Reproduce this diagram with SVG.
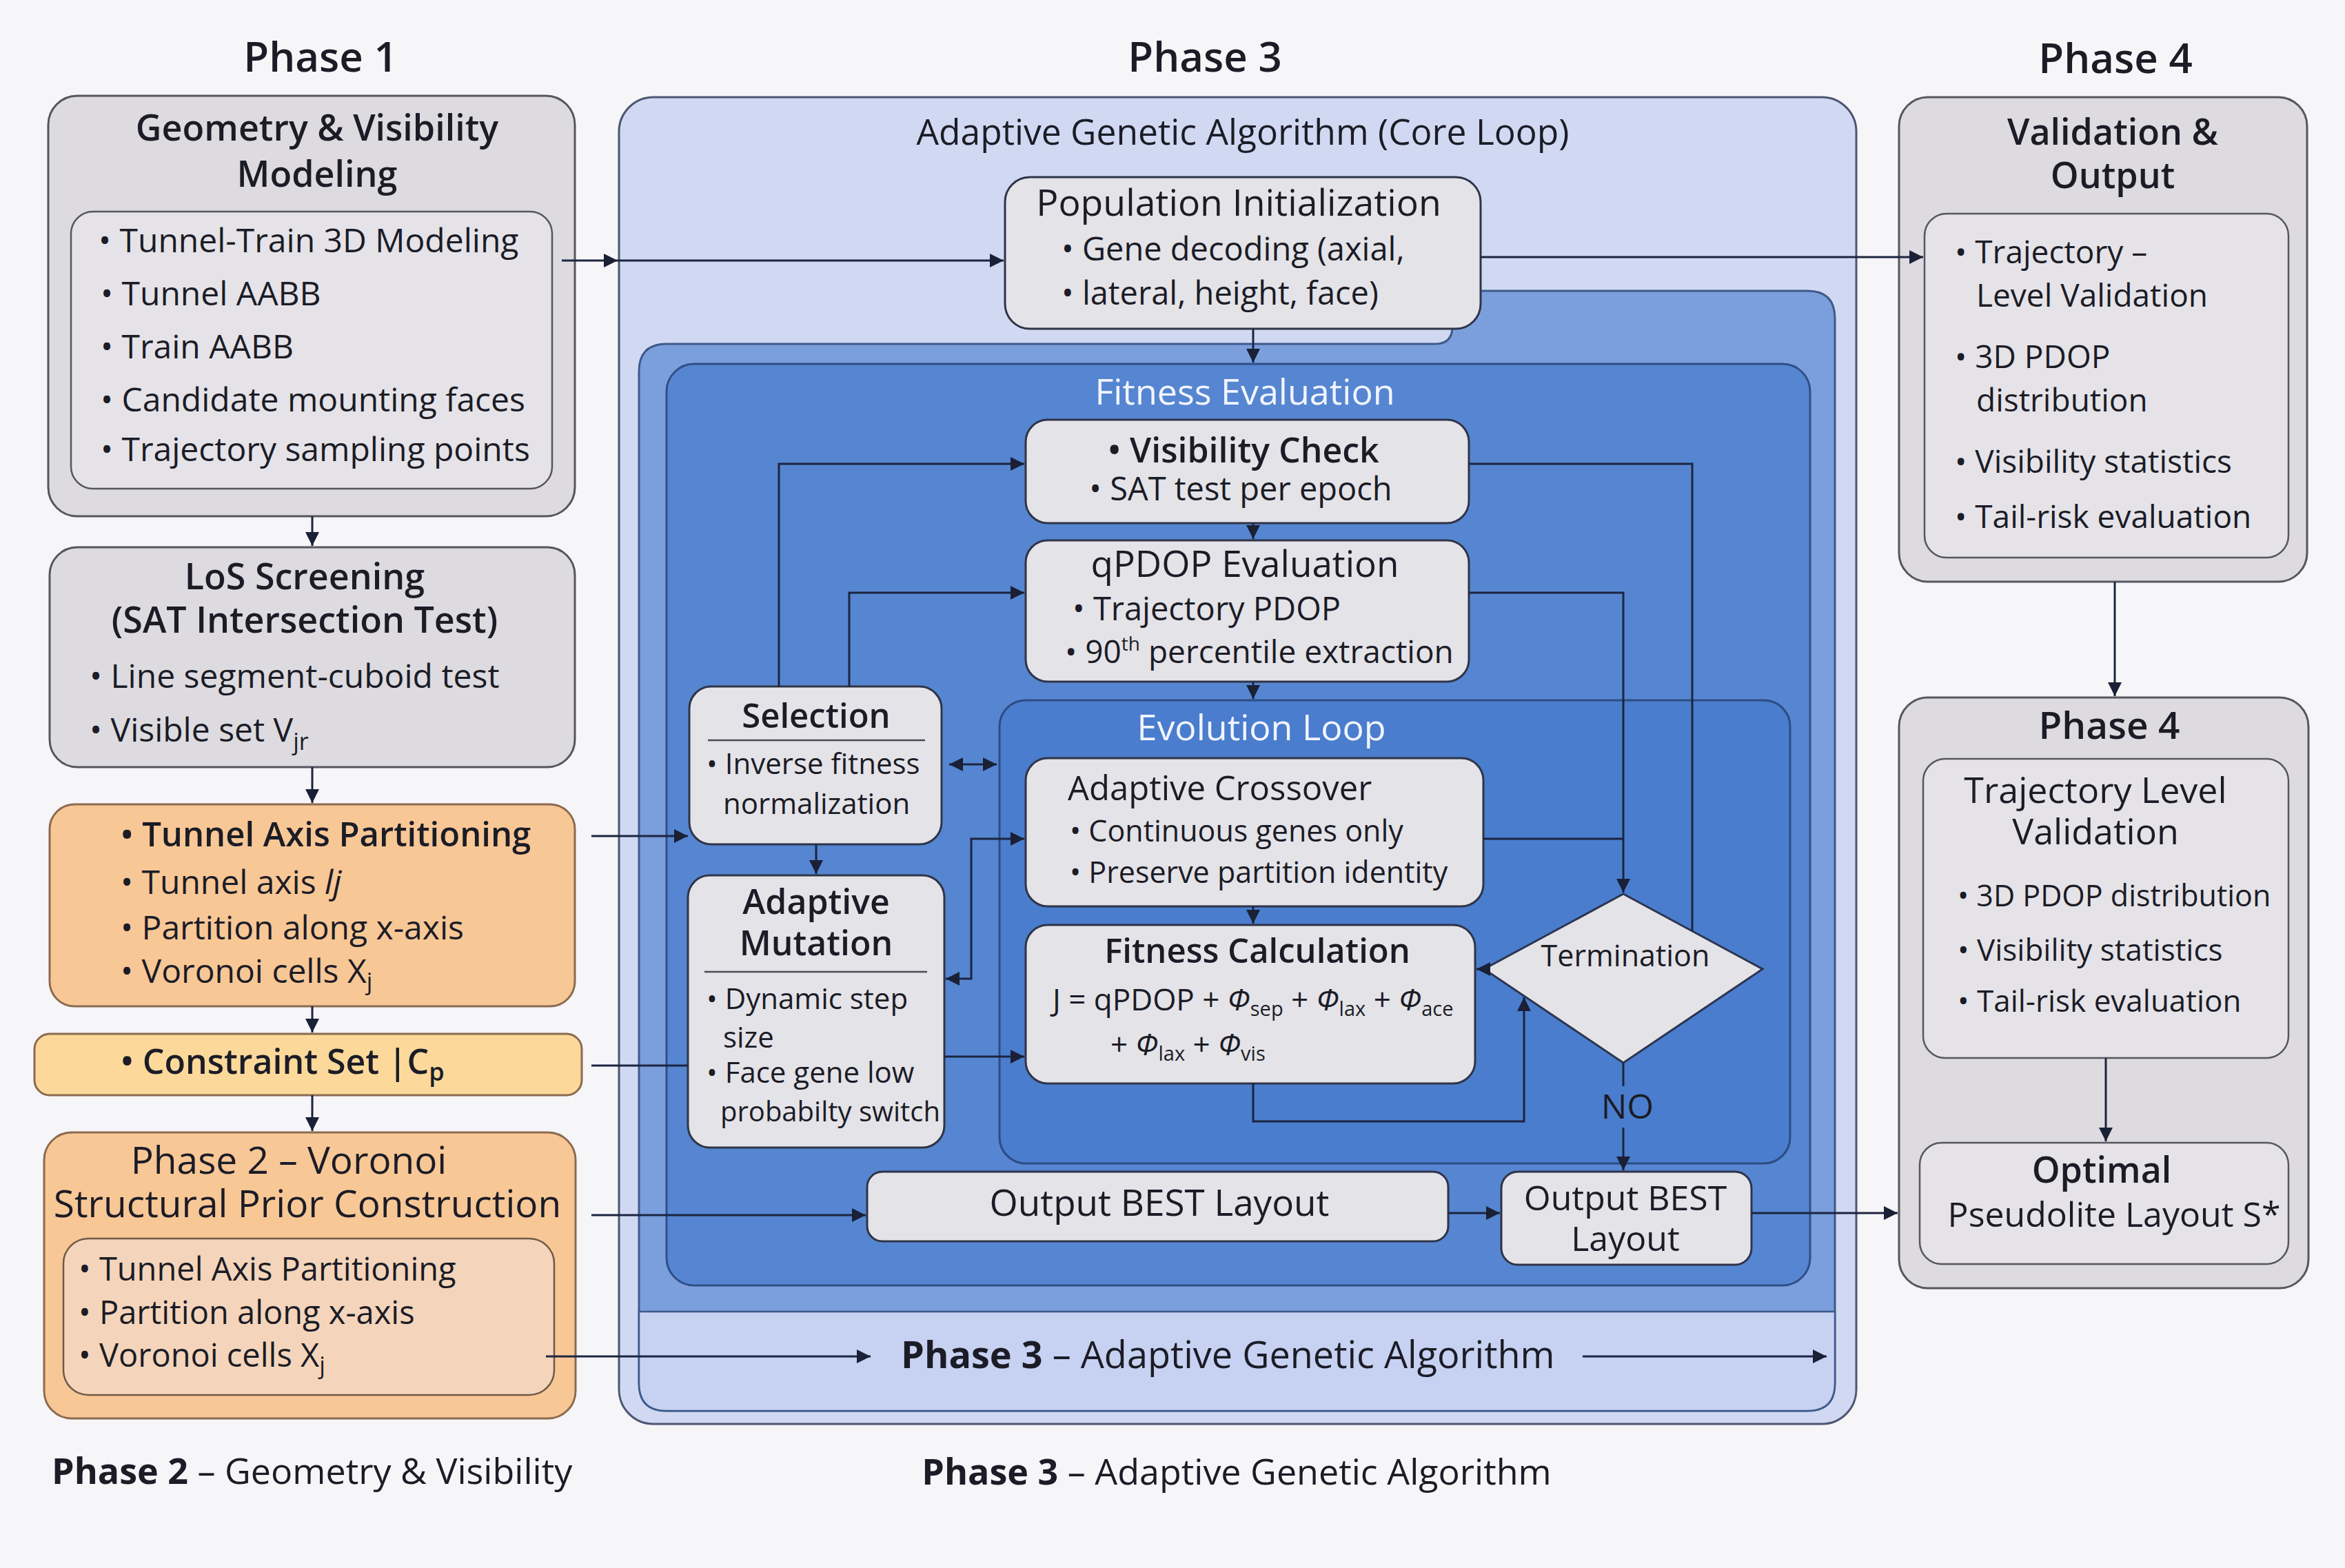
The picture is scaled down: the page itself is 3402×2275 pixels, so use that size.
<svg xmlns="http://www.w3.org/2000/svg" width="3402" height="2275" viewBox="0 0 3402 2275">
<defs>
<marker id="ah" viewBox="0 0 10 10" refX="10" refY="5" markerWidth="24" markerHeight="20" markerUnits="userSpaceOnUse" orient="auto-start-reverse"><path d="M0,0 L10,5 L0,10 z" fill="#1a2035"/></marker>
<style>
text{font-family:"Open Sans","Noto Sans",sans-serif;fill:#1b1c26}
.t{text-anchor:middle}
.sb{font-weight:600}
.gray{fill:#dddbe0;stroke:#56565e;stroke-width:3}
.gin{fill:#e5e3e8;stroke:#56565e;stroke-width:2.5}
.node{fill:#e4e3e8;stroke:#2f3448;stroke-width:3}
.orange{fill:#f8c796;stroke:#8b6b4f;stroke-width:3}
.conn{fill:none;stroke:#1c2540;stroke-width:3}
.w{fill:#f2f5ff}
</style>
</defs>
<rect x="0" y="0" width="3402" height="2275" fill="#f6f5f8"/>

<!-- Phase titles -->
<text class="t sb" x="465" y="104" font-size="60">Phase 1</text>
<text class="t sb" x="1748" y="104" font-size="60">Phase 3</text>
<text class="t sb" x="3069" y="106" font-size="60">Phase 4</text>

<!-- Phase 1: Geometry -->
<g id="geometry">
<rect class="gray" x="70" y="139" width="764" height="610" rx="42"/>
<text class="t sb" x="460" y="204" font-size="52">Geometry &amp; Visibility</text>
<text class="t sb" x="460" y="271" font-size="52">Modeling</text>
<rect class="gin" x="103" y="307" width="698" height="402" rx="32"/>
<text x="143" y="366" font-size="48">• Tunnel-Train 3D Modeling</text>
<text x="146" y="443" font-size="48">• Tunnel AABB</text>
<text x="146" y="520" font-size="48">• Train AABB</text>
<text x="146" y="597" font-size="48">• Candidate mounting faces</text>
<text x="146" y="669" font-size="48">• Trajectory sampling points</text>
</g>

<g id="los">
<rect class="gray" x="72" y="794" width="762" height="319" rx="40"/>
<text class="t sb" x="442" y="855" font-size="52">LoS Screening</text>
<text class="t sb" x="442" y="918" font-size="52">(SAT Intersection Test)</text>
<text x="130" y="998" font-size="48">• Line segment-cuboid test</text>
<text x="130" y="1076" font-size="48">• Visible set V<tspan font-size="34" dy="12">jr</tspan></text>
</g>

<g id="tunnel-axis">
<rect class="orange" x="72" y="1167" width="762" height="293" rx="36"/>
<text class="sb" x="175" y="1228" font-size="49">• Tunnel Axis Partitioning</text>
<text x="175" y="1297" font-size="48">• Tunnel axis <tspan font-style="italic">lj</tspan></text>
<text x="175" y="1363" font-size="48">• Partition along x-axis</text>
<text x="175" y="1426" font-size="48">• Voronoi cells X<tspan font-size="34" dy="10">j</tspan></text>
</g>

<g id="constraint">
<rect x="50" y="1500" width="794" height="89" rx="22" fill="#fcd99a" stroke="#8b6b4f" stroke-width="3"/>
<text class="sb" x="175" y="1558" font-size="50">• Constraint Set |C<tspan font-size="36" dy="10">p</tspan></text>
</g>

<g id="phase2">
<rect class="orange" x="64" y="1643" width="771" height="415" rx="40"/>
<text class="t" x="419" y="1703" font-size="55" font-weight="500">Phase 2 – Voronoi</text>
<text class="t" x="446" y="1766" font-size="55" font-weight="500">Structural Prior Construction</text>
<rect x="92" y="1797" width="712" height="227" rx="36" fill="#f4d5bb" stroke="#6f5a48" stroke-width="2.5"/>
<text x="114" y="1858" font-size="47">• Tunnel Axis Partitioning</text>
<text x="114" y="1921" font-size="47">• Partition along x-axis</text>
<text x="114" y="1983" font-size="47">• Voronoi cells X<tspan font-size="34" dy="10">j</tspan></text>
</g>

<text x="75" y="2153" font-size="52"><tspan font-weight="700">Phase 2</tspan> – Geometry &amp; Visibility</text>

<!-- Phase 3 container -->
<g id="phase3">
<rect x="898" y="141" width="1795" height="1925" rx="50" fill="#d1d9f2" stroke="#4c5673" stroke-width="3"/>
<text class="t" x="1803" y="210" font-size="51.5"><tspan font-weight="500">Adaptive Genetic Algorithm</tspan> (Core Loop)</text>
<path d="M967,499 L2082,499 Q2107,499 2107,474 L2107,447 Q2107,422 2132,422 L2622,422 Q2662,422 2662,462 L2662,2007 Q2662,2047 2622,2047 L967,2047 Q927,2047 927,2007 L927,539 Q927,499 967,499 Z" fill="#7b9edc" stroke="#3d5a8c" stroke-width="3"/>
<path d="M927,1903 L2662,1903 L2662,2007 Q2662,2047 2622,2047 L967,2047 Q927,2047 927,2007 Z" fill="#c7d1f1" stroke="#3d5a8c" stroke-width="2.5"/>
<text x="1307" y="1985" font-size="54"><tspan font-weight="700">Phase 3</tspan> – Adaptive Genetic Algorithm</text>
</g>

<g id="fitness-eval">
<rect x="967" y="528" width="1659" height="1337" rx="40" fill="#5686d1" stroke="#2f4f86" stroke-width="3"/>
<text class="t w" x="1806" y="587" font-size="52">Fitness Evaluation</text>
</g>

<g id="evolution-loop">
<rect x="1450" y="1016" width="1147" height="672" rx="38" fill="#4a7dcd" stroke="#2c4c82" stroke-width="3"/>
<text class="t w" x="1830" y="1074" font-size="52">Evolution Loop</text>
</g>

<g id="population">
<rect class="node" x="1458" y="257" width="690" height="220" rx="36"/>
<text class="t" x="1797" y="313" font-size="53.5" font-weight="500">Population Initialization</text>
<text x="1540" y="378" font-size="47">• Gene decoding (axial,</text>
<text x="1540" y="442" font-size="47">• lateral, height, face)</text>
</g>

<g id="visibility">
<rect class="node" x="1488" y="609" width="643" height="150" rx="32"/>
<text class="t sb" x="1804" y="671" font-size="50">• Visibility Check</text>
<text class="t" x="1800" y="726" font-size="47">• SAT test per epoch</text>
</g>

<g id="qpdop">
<rect class="node" x="1488" y="784" width="643" height="205" rx="32"/>
<text class="t" x="1806" y="837" font-size="53" font-weight="500">qPDOP Evaluation</text>
<text x="1556" y="900" font-size="47">• Trajectory PDOP</text>
<text x="1545" y="962" font-size="46">• 90<tspan font-size="28" dy="-18">th</tspan><tspan dy="18"> percentile extraction</tspan></text>
</g>

<g id="selection">
<rect class="node" x="1000" y="996" width="366" height="229" rx="32"/>
<text class="t sb" x="1184" y="1056" font-size="49">Selection</text>
<line x1="1027" y1="1074" x2="1342" y2="1074" stroke="#4a4a55" stroke-width="2.5"/>
<text x="1025" y="1123" font-size="42">• Inverse fitness</text>
<text x="1049" y="1181" font-size="42">normalization</text>
</g>

<g id="mutation">
<rect class="node" x="998" y="1270" width="372" height="395" rx="32"/>
<text class="t sb" x="1184" y="1326" font-size="50">Adaptive</text>
<text class="t sb" x="1184" y="1386" font-size="50">Mutation</text>
<line x1="1022" y1="1410" x2="1345" y2="1410" stroke="#4a4a55" stroke-width="2.5"/>
<text x="1025" y="1464" font-size="42">• Dynamic step</text>
<text x="1049" y="1520" font-size="42">size</text>
<text x="1025" y="1571" font-size="42">• Face gene low</text>
<text x="1045" y="1627" font-size="40">probabilty switch</text>
</g>

<g id="crossover">
<rect class="node" x="1488" y="1100" width="664" height="215" rx="32"/>
<text x="1549" y="1161" font-size="49">Adaptive Crossover</text>
<text x="1552" y="1221" font-size="43">• Continuous genes only</text>
<text x="1552" y="1281" font-size="43">• Preserve partition identity</text>
</g>

<g id="fitness-calc">
<rect class="node" x="1488" y="1342" width="652" height="230" rx="32"/>
<text class="t sb" x="1824" y="1397" font-size="49">Fitness Calculation</text>
<text x="1527" y="1466" font-size="44">J = qPDOP + <tspan font-style="italic">Φ</tspan><tspan font-size="29" dy="8">sep</tspan><tspan dy="-8"> + </tspan><tspan font-style="italic">Φ</tspan><tspan font-size="29" dy="8">lax</tspan><tspan dy="-8"> + </tspan><tspan font-style="italic">Φ</tspan><tspan font-size="29" dy="8">ace</tspan></text>
<text x="1611" y="1531" font-size="44">+ <tspan font-style="italic">Φ</tspan><tspan font-size="29" dy="8">lax</tspan><tspan dy="-8"> + </tspan><tspan font-style="italic">Φ</tspan><tspan font-size="29" dy="8">vis</tspan></text>
</g>

<g id="termination">
<polygon points="2355,1297 2557,1406 2355,1542 2153,1406" fill="#e4e3e8" stroke="#2c3550" stroke-width="3"/>
<text class="t" x="2358" y="1402" font-size="43">Termination</text>
</g>

<g id="output-wide">
<rect class="node" x="1258" y="1700" width="843" height="101" rx="22"/>
<text class="t" x="1682" y="1764" font-size="53">Output BEST Layout</text>
</g>

<g id="output-small">
<rect class="node" x="2178" y="1700" width="363" height="135" rx="24"/>
<text class="t" x="2358" y="1756" font-size="50">Output BEST</text>
<text class="t" x="2358" y="1815" font-size="50">Layout</text>
</g>

<text class="t" x="1794" y="2154" font-size="52"><tspan font-weight="700">Phase 3</tspan> – Adaptive Genetic Algorithm</text>

<!-- Phase 4 -->
<g id="validation">
<rect class="gray" x="2755" y="141" width="592" height="703" rx="42"/>
<text class="t sb" x="3065" y="210" font-size="52">Validation &amp;</text>
<text class="t sb" x="3065" y="273" font-size="52">Output</text>
<rect class="gin" x="2792" y="310" width="528" height="499" rx="32"/>
<text x="2836" y="382" font-size="46">• Trajectory –</text>
<text x="2867" y="445" font-size="46">Level Validation</text>
<text x="2836" y="534" font-size="46">• 3D PDOP</text>
<text x="2867" y="597" font-size="46">distribution</text>
<text x="2836" y="686" font-size="46">• Visibility statistics</text>
<text x="2836" y="766" font-size="46">• Tail-risk evaluation</text>
</g>

<g id="phase4-lower">
<rect class="gray" x="2755" y="1012" width="594" height="857" rx="42"/>
<text class="t sb" x="3060" y="1072" font-size="55">Phase 4</text>
<rect class="gin" x="2790" y="1101" width="530" height="434" rx="32"/>
<text class="t" x="3040" y="1165" font-size="52" font-weight="500">Trajectory Level</text>
<text class="t" x="3040" y="1225" font-size="52" font-weight="500">Validation</text>
<text x="2840" y="1315" font-size="43">• 3D PDOP distribution</text>
<text x="2840" y="1394" font-size="44">• Visibility statistics</text>
<text x="2840" y="1468" font-size="44">• Tail-risk evaluation</text>
</g>

<g id="optimal">
<rect class="gin" x="2785" y="1658" width="535" height="176" rx="32"/>
<text class="t sb" x="3049" y="1716" font-size="52">Optimal</text>
<text class="t" x="3067" y="1780" font-size="50">Pseudolite Layout S*</text>
</g>

<!-- Connectors -->
<g id="connectors">
<path class="conn" d="M815,378 L896,378" marker-end="url(#ah)"/>
<path class="conn" d="M896,378 L1456,378" marker-end="url(#ah)"/>
<path class="conn" d="M453,749 L453,792" marker-end="url(#ah)"/>
<path class="conn" d="M453,1113 L453,1165" marker-end="url(#ah)"/>
<path class="conn" d="M453,1460 L453,1498" marker-end="url(#ah)"/>
<path class="conn" d="M453,1589 L453,1641" marker-end="url(#ah)"/>
<path class="conn" d="M858,1213 L998,1213" marker-end="url(#ah)"/>
<path class="conn" d="M858,1546 L998,1546"/>
<path class="conn" d="M858,1763 L1256,1763" marker-end="url(#ah)"/>
<path class="conn" d="M792,1968 L1263,1968" marker-end="url(#ah)"/>
<path class="conn" d="M2296,1968 L2650,1968" marker-end="url(#ah)"/>
<path class="conn" d="M2148,373 L2790,373" stroke="#1f3a66" marker-end="url(#ah)"/>
<path class="conn" d="M1818,477 L1818,526" marker-end="url(#ah)"/>
<path class="conn" d="M1130,996 L1130,673 L1486,673" marker-end="url(#ah)"/>
<path class="conn" d="M1232,996 L1232,860 L1486,860" marker-end="url(#ah)"/>
<path class="conn" d="M1818,759 L1818,782" marker-end="url(#ah)"/>
<path class="conn" d="M1818,989 L1818,1014" marker-end="url(#ah)"/>
<path class="conn" d="M1377,1109 L1446,1109" marker-start="url(#ah)" marker-end="url(#ah)"/>
<path class="conn" d="M1184,1225 L1184,1268" marker-end="url(#ah)"/>
<path class="conn" d="M1372,1420 L1409,1420 L1409,1217 L1486,1217" marker-start="url(#ah)" marker-end="url(#ah)"/>
<path class="conn" d="M1370,1533 L1486,1533" marker-end="url(#ah)"/>
<path class="conn" d="M1818,1315 L1818,1340" marker-end="url(#ah)"/>
<path class="conn" d="M2131,673 L2455,673 L2455,1351"/>
<path class="conn" d="M2131,860 L2355,860 L2355,1295" marker-end="url(#ah)"/>
<path class="conn" d="M2152,1217 L2355,1217"/>
<path class="conn" d="M2160,1406 L2142,1406" marker-end="url(#ah)"/>
<path class="conn" d="M1818,1572 L1818,1627 L2211,1627 L2211,1447" marker-end="url(#ah)"/>
<path class="conn" d="M2355,1542 L2355,1576"/>
<path class="conn" d="M2355,1636 L2355,1698" marker-end="url(#ah)"/>
<path class="conn" d="M2101,1760 L2176,1760" marker-end="url(#ah)"/>
<path class="conn" d="M2541,1760 L2753,1760" marker-end="url(#ah)"/>
<path class="conn" d="M3068,844 L3068,1010" marker-end="url(#ah)"/>
<path class="conn" d="M3055,1535 L3055,1656" marker-end="url(#ah)"/>
<text class="t" x="2361" y="1623" font-size="50">NO</text>
</g>
</svg>
